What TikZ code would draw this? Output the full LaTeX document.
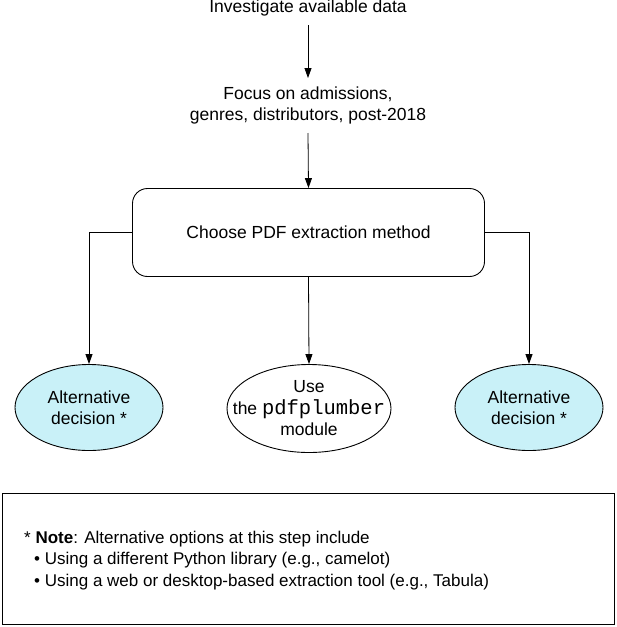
\documentclass[tikz,border=0pt]{standalone}
\usepackage{fontspec}
\setmainfont{Liberation Sans}
\setmonofont{Liberation Mono}
\usetikzlibrary{shapes.geometric,arrows.meta}
\definecolor{altfill}{HTML}{C9F1F8}
\begin{document}
\begin{tikzpicture}[x=1pt,y=-1pt,
  every node/.style={font=\fontsize{17.5}{21}\selectfont},
  plain/.style={align=center,inner sep=0pt},
  arr/.style={-{Triangle[length=10pt,width=7pt]},line width=0.8pt},
  ell/.style={draw,ellipse,line width=0.9pt,inner xsep=-30pt,inner ysep=-20pt,align=center},
]
\useasboundingbox (0,0) rectangle (617,627);
\node[plain] (inv) at (308,8) {Investigate available data};
\node[plain] (foc) at (308,105.5) {Focus on admissions,\\genres, distributors, post-2018};
\node[draw,rounded corners=15pt,line width=0.9pt,minimum width=352pt,minimum height=88pt,plain] (ch) at (308.5,232.5) {Choose PDF extraction method};
\node[ell,fill=altfill,minimum width=148pt,minimum height=86pt] (l) at (89,407.5) {Alternative\\decision *};
\node[ell,minimum width=164pt,minimum height=88pt] (m) at (309,408.5) {Use\\[1pt]the {\fontsize{20.5}{21}\selectfont\ttfamily pdfplumber}\\module};
\node[ell,fill=altfill,minimum width=148pt,minimum height=86pt] (r) at (529,407.5) {Alternative\\decision *};
\draw[arr] (inv.south |- 0,25) -- (foc.north |- 0,78);
\coordinate (a1) at (308,133);
\draw[arr] (a1) -- (ch.north);
\draw[arr] (ch.west) -| (l.north);
\draw[arr] (ch.east) -| (r.north);
\draw[arr] (ch.south) -- (m.north);
\node[draw,line width=0.9pt,minimum width=612pt,minimum height=131pt,inner sep=0pt] (note) at (308,558.5) {};
\node[anchor=west,align=left,inner sep=0pt,font=\fontsize{17}{21.5}\selectfont] (nt) at (24,560.5) {* \textbf{Note}: Alternative options at this step include\\
\hspace{10pt}\textbullet\ Using a different Python library (e.g., camelot)\\
\hspace{10pt}\textbullet\ Using a web or desktop-based extraction tool (e.g., Tabula)};
\end{tikzpicture}
\end{document}
